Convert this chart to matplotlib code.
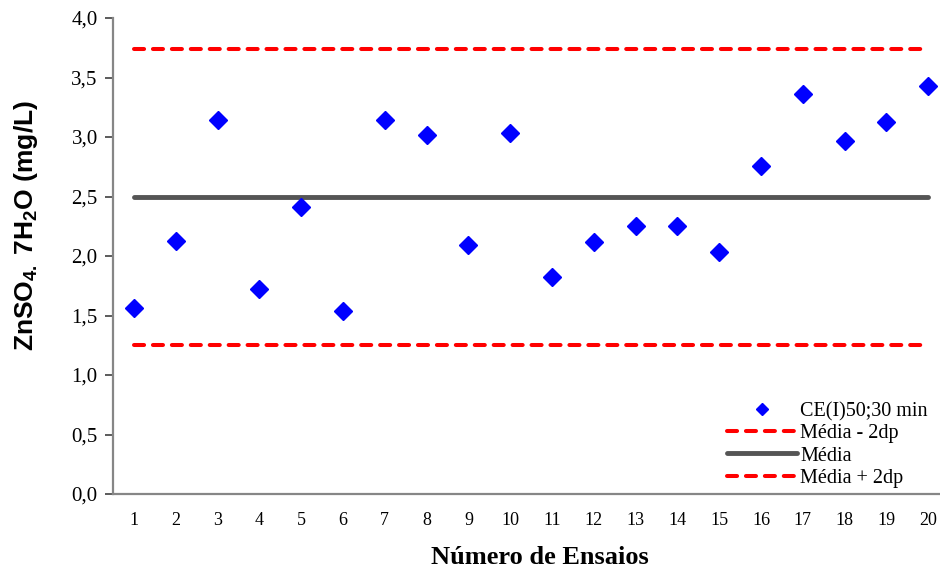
import numpy as np
import matplotlib.pyplot as plt

plt.rcParams['font.family'] = ['Liberation Serif', 'DejaVu Serif']
plt.rcParams['mathtext.fontset'] = 'custom'
plt.rcParams['mathtext.rm'] = 'Liberation Sans:bold'
plt.rcParams['mathtext.it'] = 'Liberation Sans:bold'
plt.rcParams['mathtext.bf'] = 'Liberation Sans:bold'

# --- dados ---
ensaios = list(range(1, 21))
ce50 = [1.56, 2.13, 3.14, 1.72, 2.41, 1.54, 3.14, 3.02, 2.09, 3.03,
        1.82, 2.12, 2.25, 2.25, 2.03, 2.76, 3.36, 2.97, 3.13, 3.43]
media = 2.50
media_menos_2dp = 1.25
media_mais_2dp = 3.74

yticks = [0.0, 0.5, 1.0, 1.5, 2.0, 2.5, 3.0, 3.5, 4.0]

fig = plt.figure(figsize=(9.4, 5.74), dpi=100)
ax = fig.add_axes([113 / 940, 1 - 494 / 574, 1 - 113 / 940, (494 - 18) / 574])

# linhas tracejadas vermelhas (média +/- 2 desvios)
tracejado = dict(color='#ff0000', lw=2.9, linestyle=(0, (2.5, 2.2)),
                 dash_capstyle='round')

ax.plot(ensaios, ce50, linestyle='none', marker='D', markersize=9.6,
        color='#0000ff', label='CE(I)50;30 min', zorder=4)
ax.plot(ensaios, [media_menos_2dp] * len(ensaios), label='Média - 2dp', **tracejado)
ax.plot(ensaios, [media] * len(ensaios), color='#555555', lw=3.5,
        solid_capstyle='round', label='Média')
ax.plot(ensaios, [media_mais_2dp] * len(ensaios), label='Média + 2dp', **tracejado)

ax.set_xlim(0.5, 20.28)
ax.set_ylim(0, 4.0)
ax.set_xticks(ensaios)
ax.set_xticklabels([str(e) for e in ensaios], fontsize=13)
ax.set_yticks(yticks)
ax.set_yticklabels([f'{v:.1f}'.replace('.', ',') for v in yticks], fontsize=15)

ax.tick_params(axis='x', length=0, pad=13)
ax.tick_params(axis='y', direction='out', length=6, width=1.2, color='#404040', pad=5)

for s in ['top', 'right']:
    ax.spines[s].set_visible(False)
for s in ['left', 'bottom']:
    ax.spines[s].set_color('#868686')
    ax.spines[s].set_linewidth(1.6)

ax.set_xlabel('Número de Ensaios', fontsize=19, fontweight='bold', va='center')
ax.xaxis.set_label_coords((540 - 113) / 827, -(557 - 494) / 476)
ax.set_ylabel(r'$\mathrm{ZnSO_{4.}\;7H_2O\ (mg/L)}$', fontsize=19,
              va='center', ha='center')
ax.yaxis.set_label_coords(-(113 - 26) / 827, (494 - 225) / 476)

leg = ax.legend(loc='lower right', bbox_to_anchor=(1.0, -0.012), frameon=False,
                fontsize=14.5, markerscale=0.6, handlelength=3.5, handletextpad=0.15,
                labelspacing=0.15, borderaxespad=0.2)

fig.savefig('out.png', dpi=100)
